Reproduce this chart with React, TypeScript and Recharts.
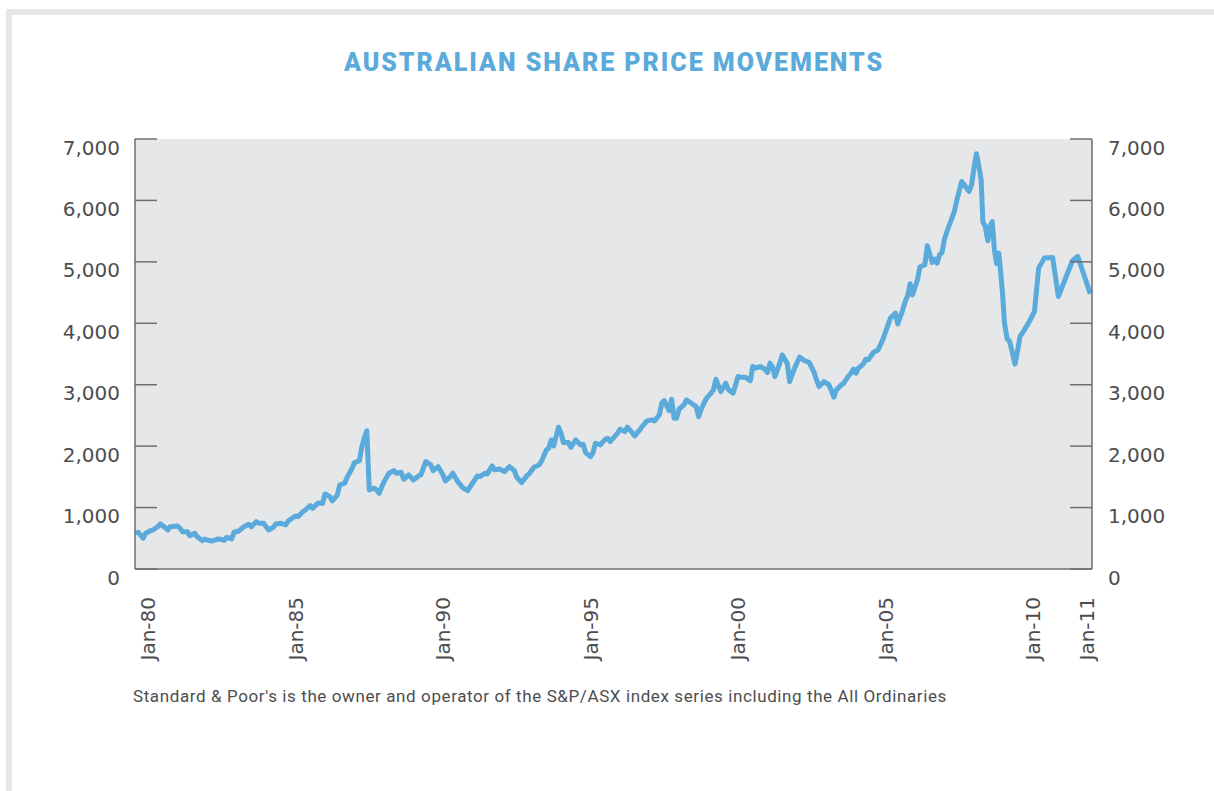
import { LineChart, Line, XAxis, YAxis, CartesianGrid } from "recharts";

// months since Jan-80 (position along the time axis)
const monthIdx = [
  -5, -4, -2, -1, 1, 2, 4, 5, 6, 8, 9, 12, 13, 14, 16, 17, 19, 20, 22, 23, 24, 26, 28, 29, 31, 32, 34, 35, 37, 39,
  41, 42, 44, 45, 47, 49, 51, 52, 54, 56, 57, 60, 61, 63, 64, 66, 67, 69, 71, 72, 74, 75, 77, 78, 80, 81, 83, 84,
  86, 87, 88, 89, 90, 92, 93, 94, 96, 98, 100, 101, 103, 104, 106, 108, 110, 111, 113, 115, 116, 118, 120, 121,
  123, 124, 126, 128, 130, 132, 134, 135, 137, 138, 140, 141, 143, 145, 147, 149, 150, 152, 154, 155, 157, 159,
  160, 162, 163, 164, 165, 167, 168, 169, 171, 172, 174, 176, 177, 178, 180, 181, 182, 184, 186, 187, 188, 191,
  192, 194, 195, 197, 198, 200, 201, 203, 205, 206, 208, 209, 210, 212, 213, 214, 215, 216, 218, 219, 221, 223,
  224, 225, 227, 229, 230, 231, 233, 235, 236, 238, 240, 241, 243, 245, 246, 247, 249, 251, 252, 253, 254, 255,
  257, 258, 260, 261, 263, 265, 267, 269, 271, 272, 273, 275, 277, 278, 279, 280, 282, 283, 285, 286, 287, 288,
  289, 291, 292, 293, 295, 297, 299, 301, 302, 304, 305, 307, 308, 309, 310, 311, 313, 314, 316, 317, 319, 320,
  321, 322, 323, 324, 325, 327, 328, 329, 331, 332, 334, 335, 336, 337, 338, 338.9, 339.6, 340.5, 341.6, 342.6,
  343.4, 344.3, 345.2, 346.1, 346.7, 347.7, 348.4, 349.5, 350.4, 351.5, 352.7, 353.8, 354.7, 356.5, 358.5, 360.6,
  362.3, 364.6, 368, 370.3, 376.1, 378.2, 383.3,
];

// All Ordinaries index level
const allOrds = [
  582, 598, 500, 582, 624, 635, 689, 733, 705, 635, 689, 700, 663, 608, 608, 543, 582, 526, 461, 489, 472, 456,
  484, 489, 467, 516, 489, 598, 619, 689, 728, 689, 771, 744, 744, 635, 679, 733, 744, 717, 782, 863, 852, 934,
  961, 1031, 989, 1070, 1070, 1222, 1178, 1108, 1205, 1368, 1396, 1494, 1640, 1732, 1764, 1992, 2139, 2248, 1287,
  1315, 1287, 1233, 1422, 1559, 1601, 1559, 1575, 1461, 1531, 1450, 1515, 1531, 1748, 1694, 1601, 1667, 1531,
  1433, 1504, 1559, 1422, 1324, 1276, 1396, 1515, 1504, 1559, 1548, 1678, 1613, 1629, 1585, 1667, 1601, 1494,
  1406, 1515, 1548, 1657, 1694, 1748, 1938, 1966, 2101, 2004, 2308, 2211, 2058, 2058, 1982, 2101, 2020, 2031,
  1895, 1830, 1895, 2048, 2020, 2113, 2129, 2074, 2211, 2276, 2237, 2308, 2220, 2167, 2264, 2318, 2411, 2427,
  2411, 2509, 2699, 2742, 2579, 2764, 2455, 2455, 2601, 2672, 2753, 2699, 2644, 2481, 2601, 2769, 2862, 2916,
  3090, 2888, 3025, 2927, 2862, 3133, 3123, 3123, 3063, 3296, 3269, 3296, 3253, 3198, 3351, 3296, 3133, 3351,
  3486, 3351, 3051, 3269, 3448, 3394, 3361, 3198, 3068, 2970, 3051, 2997, 2905, 2797, 2916, 2997, 3025, 3144,
  3188, 3253, 3188, 3269, 3340, 3416, 3405, 3524, 3568, 3742, 3975, 4084, 4165, 3991, 4219, 4354, 4447, 4643,
  4463, 4708, 4915, 4952, 5261, 4990, 5045, 4980, 5115, 5153, 5371, 5494, 5713, 5820, 5999, 6309, 6255, 6146,
  6255, 6527, 6760, 6553, 6337, 5657, 5587, 5343, 5587, 5657, 5196, 4968, 5142, 4898, 4436, 4002, 3742, 3719,
  3540, 3335, 3568, 3784, 3893, 4029, 4192, 4898, 5061, 5071, 4436, 5022, 5087, 4480,
];

const xTicks = [0, 60, 120, 180, 240, 300, 360, 382];
const xTickLabels = ["Jan-80", "Jan-85", "Jan-90", "Jan-95", "Jan-00", "Jan-05", "Jan-10", "Jan-11"];
const yTicks = [0, 1000, 2000, 3000, 4000, 5000, 6000, 7000];

const data = monthIdx.map((m, i) => ({ m, value: allOrds[i] }));

const BLUE = "#5aaadb";
const AXIS = "#6d6e71";
const TEXT = "#4d4d4f";
const FONT = "'DejaVu Sans', sans-serif";

function YTick(props: any) {
  const { x, y, payload, textAnchor } = props;
  return (
    <text x={x} y={y + 8.5} dy="0.355em" textAnchor={textAnchor} fill={TEXT} fontSize={20} fontFamily={FONT}>
      {Number(payload.value).toLocaleString("en-US")}
    </text>
  );
}

function XTick(props: any) {
  const { x, y, payload } = props;
  const i = xTicks.indexOf(payload.value);
  return (
    <text
      x={x}
      y={y}
      dy="0.355em"
      textAnchor="end"
      transform={`rotate(-90, ${x}, ${y})`}
      fill={TEXT}
      fontSize={20}
      fontFamily={FONT}
    >
      {xTickLabels[i]}
    </text>
  );
}

export default function App() {
  return (
    <div
      style={{
        position: "absolute",
        left: 0,
        top: 0,
        width: 1214,
        height: 791,
        overflow: "hidden",
        background: "#fff",
      }}
    >
      <div
        style={{
          position: "absolute",
          left: 6,
          top: 9,
          width: 1214,
          height: 800,
          borderTop: "6px solid #e6e7e8",
          borderLeft: "6px solid #e6e7e8",
        }}
      />
      <div
        style={{
          position: "absolute",
          left: 0,
          top: 47,
          width: 1228,
          textAlign: "center",
          color: BLUE,
          fontFamily: "Roboto, sans-serif",
          fontWeight: 900,
          fontSize: 25,
          letterSpacing: 1.95,
          lineHeight: "32px",
        }}
      >
        AUSTRALIAN SHARE PRICE MOVEMENTS
      </div>
      <div style={{ position: "absolute", left: 0, top: 0 }}>
        <LineChart width={1214} height={700} data={data} margin={{ top: 139, right: 0, bottom: 31, left: 0 }}>
          <CartesianGrid horizontal={false} vertical={false} fill="#e6e7e8" fillOpacity={1} stroke="none" />
          <XAxis
            dataKey="m"
            type="number"
            domain={[-5.3, 384]}
            ticks={xTicks}
            tick={<XTick />}
            tickLine={false}
            tickMargin={22}
            height={100}
            axisLine={{ stroke: AXIS, strokeWidth: 1.5 }}
            interval={0}
          />
          <YAxis
            yAxisId="left"
            orientation="left"
            width={135}
            domain={[0, 7000]}
            ticks={yTicks}
            tick={<YTick />}
            tickSize={-22}
            tickMargin={37}
            tickLine={{ stroke: AXIS, strokeWidth: 1.5 }}
            axisLine={{ stroke: AXIS, strokeWidth: 1.5 }}
            interval={0}
          />
          <YAxis
            yAxisId="right"
            orientation="right"
            width={122}
            domain={[0, 7000]}
            ticks={yTicks}
            tick={<YTick />}
            tickSize={-22}
            tickMargin={38}
            tickLine={{ stroke: AXIS, strokeWidth: 1.5 }}
            axisLine={{ stroke: AXIS, strokeWidth: 1.5 }}
            interval={0}
          />
          {/* same series on the right scale, invisible, so the right axis gets its ticks */}
          <Line
            yAxisId="right"
            type="linear"
            dataKey="value"
            stroke="none"
            strokeWidth={0}
            dot={false}
            activeDot={false}
            legendType="none"
            isAnimationActive={false}
          />
          <Line
            yAxisId="left"
            type="linear"
            dataKey="value"
            stroke={BLUE}
            strokeWidth={5}
            strokeLinejoin="round"
            dot={false}
            activeDot={false}
            isAnimationActive={false}
          />
        </LineChart>
      </div>
      <div
        style={{
          position: "absolute",
          left: 133,
          top: 686,
          color: TEXT,
          fontFamily: "Roboto, sans-serif",
          fontSize: 17,
          letterSpacing: 0.6,
          lineHeight: "20px",
          whiteSpace: "nowrap",
        }}
      >
        Standard &amp; Poor's is the owner and operator of the S&amp;P/ASX index series including the All Ordinaries
      </div>
    </div>
  );
}
